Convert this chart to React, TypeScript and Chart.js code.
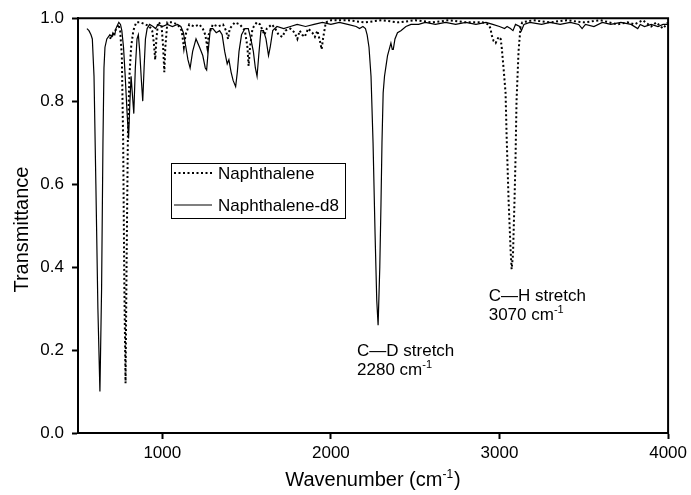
import React, { useEffect, useRef } from "react";
import { Chart, registerables } from "chart.js";

Chart.register(...registerables);

// ---- Data ----
const naphWn = [
  690, 700, 710, 720, 730, 740, 750, 760, 768, 775, 782, 788, 796, 805, 815, 828, 845, 870, 900, 925,
  940, 950, 958, 965, 975, 995, 1005, 1012, 1018, 1030, 1060, 1090, 1115, 1128, 1138, 1160, 1190, 1220,
  1240, 1255, 1267, 1275, 1300, 1330, 1360, 1378, 1390, 1400, 1430, 1460, 1490, 1505, 1512, 1520, 1535,
  1560, 1580, 1595, 1606, 1620, 1650, 1670, 1690, 1712, 1730, 1760, 1785, 1801, 1815, 1830, 1845, 1865,
  1890, 1905, 1920, 1935, 1945, 1955, 1970, 2000, 2100, 2200, 2300, 2400, 2500, 2600, 2700, 2800, 2900,
  2935, 2947, 2953, 2965, 2977, 2995, 3007, 3013, 3024, 3036, 3042, 3054, 3066, 3072, 3080, 3089, 3095,
  3101, 3113, 3125, 3135, 3200, 3300, 3400, 3500, 3600, 3700, 3760, 3800, 3850, 3900, 3930, 3970, 4000,
];
const naphT = [
  0.95, 0.96, 0.955, 0.97, 0.975, 0.985, 0.97, 0.91, 0.7, 0.35, 0.12, 0.4, 0.72, 0.86, 0.93, 0.97, 0.99, 0.99, 0.985, 0.98,
  0.97, 0.94, 0.9, 0.95, 0.99, 0.985, 0.93, 0.87, 0.93, 0.99, 0.99, 0.985, 0.97, 0.93, 0.96, 0.985, 0.98, 0.985,
  0.975, 0.96, 0.93, 0.96, 0.985, 0.98, 0.985, 0.97, 0.95, 0.975, 0.99, 0.985, 0.97, 0.93, 0.885, 0.93, 0.975,
  0.99, 0.985, 0.97, 0.96, 0.975, 0.985, 0.975, 0.96, 0.955, 0.97, 0.975, 0.965, 0.95, 0.97, 0.96, 0.955, 0.975,
  0.965, 0.955, 0.97, 0.945, 0.925, 0.955, 0.99, 0.995, 0.995, 0.99, 0.995, 0.99, 0.995, 0.99, 0.995, 0.99, 0.99,
  0.985, 0.975, 0.96, 0.945, 0.94, 0.955, 0.95, 0.93, 0.88, 0.82, 0.72, 0.56, 0.44, 0.395, 0.43, 0.56, 0.66,
  0.8, 0.92, 0.98, 0.99, 0.995, 0.99, 0.995, 0.99, 0.995, 0.985, 0.99, 0.985, 0.995, 0.98, 0.99, 0.975, 0.99,
];

const d8Wn = [
  553, 565, 577, 585, 595, 606, 618, 630, 640, 648, 654, 660, 671, 689, 700, 707, 718, 725, 742, 752,
  760, 770, 780, 790, 800, 808, 815, 822, 831, 840, 850, 858, 866, 876, 884, 892, 900, 910, 925, 945,
  960, 975, 1000, 1030, 1060, 1090, 1110, 1125, 1140, 1152, 1165, 1180, 1200, 1221, 1240, 1255, 1263, 1272,
  1285, 1300, 1320, 1340, 1355, 1370, 1385, 1395, 1408, 1420, 1435, 1445, 1455, 1470, 1490, 1510, 1525,
  1540, 1552, 1562, 1572, 1585, 1600, 1615, 1630, 1640, 1655, 1680, 1720, 1760, 1800, 1850, 1900, 1950,
  2000, 2050, 2100, 2150, 2170, 2190, 2205, 2215, 2226, 2238, 2250, 2262, 2272, 2280, 2290, 2297, 2303,
  2310, 2318, 2327, 2336, 2346, 2356, 2364, 2370, 2380, 2395, 2415, 2445, 2475, 2520, 2560, 2620, 2680,
  2740, 2800, 2860, 2920, 2960, 3000, 3030, 3045, 3065, 3080, 3095, 3120, 3130, 3145, 3180, 3250, 3300,
  3360, 3420, 3470, 3490, 3510, 3560, 3610, 3660, 3720, 3780, 3820, 3835, 3860, 3900, 3940, 3970, 4000,
];
const d8T = [
  0.975, 0.97, 0.96, 0.95, 0.86, 0.6, 0.3, 0.1, 0.35, 0.7, 0.88, 0.93, 0.95, 0.96, 0.955, 0.965, 0.96, 0.975, 0.99, 0.985,
  0.97, 0.93, 0.86, 0.78, 0.71, 0.8, 0.86, 0.82, 0.77, 0.88, 0.95, 0.96, 0.92, 0.85, 0.8, 0.88, 0.95, 0.975, 0.985, 0.98,
  0.975, 0.985, 0.98, 0.985, 0.98, 0.985, 0.98, 0.965, 0.93, 0.9, 0.88, 0.92, 0.95, 0.93, 0.91, 0.88, 0.875, 0.92,
  0.975, 0.975, 0.965, 0.97, 0.96, 0.92, 0.89, 0.9, 0.87, 0.85, 0.835, 0.87, 0.92, 0.96, 0.975, 0.975, 0.95,
  0.92, 0.88, 0.86, 0.91, 0.97, 0.97, 0.95, 0.91, 0.93, 0.97, 0.98, 0.975, 0.98, 0.985, 0.98, 0.985, 0.99,
  0.985, 0.99, 0.985, 0.98, 0.975, 0.98, 0.975, 0.96, 0.93, 0.86, 0.7, 0.48, 0.32, 0.26, 0.4, 0.55, 0.7,
  0.82, 0.86, 0.885, 0.91, 0.925, 0.94, 0.925, 0.925, 0.95, 0.965, 0.97, 0.98, 0.985, 0.985, 0.99, 0.985, 0.99,
  0.985, 0.99, 0.985, 0.99, 0.985, 0.98, 0.975, 0.98, 0.975, 0.97, 0.985, 0.98, 0.97, 0.985, 0.99, 0.985, 0.99,
  0.985, 0.99, 0.985, 0.975, 0.985, 0.98, 0.99, 0.985, 0.99, 0.985, 0.975, 0.985, 0.98, 0.985, 0.98, 0.985, 0.985,
];

const seriesNames = ["Naphthalene", "Naphthalene-d8"];
const xTickValues = [1000, 2000, 3000, 4000];
const yTickValues = [0, 0.2, 0.4, 0.6, 0.8, 1.0];
const xTitle = "Wavenumber (cm";
const yTitle = "Transmittance";
const annotationLabels = ["C\u2014D stretch", "C\u2014H stretch"];
const annotationUnits = ["2280 cm", "3070 cm"];
const annotationAnchorWn = [2155, 2936];
const annotationAnchorT = [0.186, 0.319];

const FONT = "'Liberation Sans', Arial, sans-serif";

function drawSup(ctx: CanvasRenderingContext2D, base: string, sup: string, tail: string, x: number, y: number, size: number, align: "left" | "center") {
  const mainFont = `${size}px ${FONT}`;
  const supFont = `${Math.round(size * 0.62)}px ${FONT}`;
  ctx.font = mainFont;
  const wb = ctx.measureText(base).width;
  const wt = ctx.measureText(tail).width;
  ctx.font = supFont;
  const ws = ctx.measureText(sup).width;
  const total = wb + ws + wt + 1;
  let sx = align === "center" ? x - total / 2 : x;
  ctx.textAlign = "left";
  ctx.textBaseline = "alphabetic";
  ctx.font = mainFont;
  ctx.fillText(base, sx, y);
  sx += wb;
  ctx.font = supFont;
  ctx.fillText(sup, sx, y - size * 0.42);
  sx += ws + 1;
  ctx.font = mainFont;
  ctx.fillText(tail, sx, y);
}

const overlayPlugin = {
  id: "overlay",
  afterDraw(chart: any) {
    const { ctx, chartArea: ca, scales } = chart;
    const xs = scales.x;
    const ys = scales.y;
    ctx.save();
    ctx.fillStyle = "#000";
    ctx.strokeStyle = "#000";
    // frame
    ctx.lineWidth = 2;
    ctx.setLineDash([]);
    ctx.beginPath();
    ctx.moveTo(ca.left - 1, ca.top);
    ctx.lineTo(ca.right, ca.top);
    ctx.lineTo(ca.right, ca.bottom + 1);
    ctx.stroke();

    // legend
    const lx = 171.5, ly = 163.5, lw = 174, lh = 55;
    ctx.lineWidth = 1;
    ctx.strokeRect(lx, ly, lw, lh);
    ctx.lineWidth = 2;
    ctx.setLineDash([2, 2.5]);
    ctx.beginPath();
    ctx.moveTo(174, 173);
    ctx.lineTo(212, 173);
    ctx.stroke();
    ctx.setLineDash([]);
    ctx.lineWidth = 1.2;
    ctx.beginPath();
    ctx.moveTo(174, 205);
    ctx.lineTo(212, 205);
    ctx.stroke();
    ctx.font = `17px ${FONT}`;
    ctx.textAlign = "left";
    ctx.textBaseline = "middle";
    ctx.fillText(seriesNames[0], 218, 174);
    ctx.fillText(seriesNames[1], 218, 206);

    // annotations
    for (let i = 0; i < annotationLabels.length; i++) {
      const px = xs.getPixelForValue(annotationAnchorWn[i]);
      const py = ys.getPixelForValue(annotationAnchorT[i]);
      ctx.font = `17px ${FONT}`;
      ctx.textAlign = "left";
      ctx.textBaseline = "alphabetic";
      ctx.fillText(annotationLabels[i], px, py);
      drawSup(ctx, annotationUnits[i], "-1", "", px, py + 19, 17, "left");
    }

    // axis titles
    drawSup(ctx, xTitle, "-1", ")", (ca.left + ca.right) / 2, 486, 20, "center");
    ctx.save();
    ctx.translate(22, (ca.top + ca.bottom) / 2 + 4);
    ctx.rotate(-Math.PI / 2);
    ctx.font = `20px ${FONT}`;
    ctx.textAlign = "center";
    ctx.textBaseline = "middle";
    ctx.fillText(yTitle, 0, 0);
    ctx.restore();
    ctx.restore();
  },
};

export default function App() {
  const ref = useRef<HTMLCanvasElement | null>(null);
  useEffect(() => {
    if (!ref.current) return;
    Chart.defaults.font.family = FONT;
    Chart.defaults.color = "#000";
    const chart = new Chart(ref.current, {
      type: "line",
      data: {
        datasets: [
          {
            label: seriesNames[0],
            data: naphWn.map((w, i) => ({ x: w, y: naphT[i] })),
            borderColor: "#000",
            borderWidth: 2,
            borderDash: [2, 2.5],
            pointRadius: 0,
            tension: 0,
            fill: false,
          },
          {
            label: seriesNames[1],
            data: d8Wn.map((w, i) => ({ x: w, y: d8T[i] })),
            borderColor: "#000",
            borderWidth: 1.2,
            pointRadius: 0,
            tension: 0,
            fill: false,
          },
        ],
      },
      options: {
        animation: false,
        responsive: true,
        maintainAspectRatio: false,
        layout: { padding: { top: 18, right: 21, left: 0, bottom: 0 } },
        plugins: { legend: { display: false }, tooltip: { enabled: false } },
        scales: {
          x: {
            type: "linear",
            min: 500,
            max: 4000,
            afterBuildTicks: (s: any) => {
              s.ticks = xTickValues.map((v) => ({ value: v }));
            },
            afterFit: (s: any) => {
              s.height = 62;
            },
            ticks: {
              font: { size: 17, family: FONT },
              color: "#000",
              padding: 4,
              maxRotation: 0,
              callback: (v: any) => String(v),
            },
            grid: {
              display: true,
              drawOnChartArea: false,
              drawTicks: true,
              tickLength: 6,
              tickWidth: 2,
              color: "#000",
            },
            border: { display: true, color: "#000", width: 2 },
          },
          y: {
            type: "linear",
            min: 0,
            max: 1,
            afterBuildTicks: (s: any) => {
              s.ticks = yTickValues.map((v) => ({ value: v }));
            },
            afterFit: (s: any) => {
              s.width = 78;
            },
            ticks: {
              font: { size: 17, family: FONT },
              color: "#000",
              padding: 8,
              callback: (v: any) => Number(v).toFixed(1),
            },
            grid: {
              display: true,
              drawOnChartArea: false,
              drawTicks: true,
              tickLength: 6,
              tickWidth: 2,
              color: "#000",
            },
            border: { display: true, color: "#000", width: 2 },
          },
        },
      },
      plugins: [overlayPlugin],
    } as any);
    return () => chart.destroy();
  }, []);
  return (
    <div style={{ position: "absolute", left: 0, top: 0, width: 691, height: 495, background: "#fff" }}>
      <canvas ref={ref} />
    </div>
  );
}
